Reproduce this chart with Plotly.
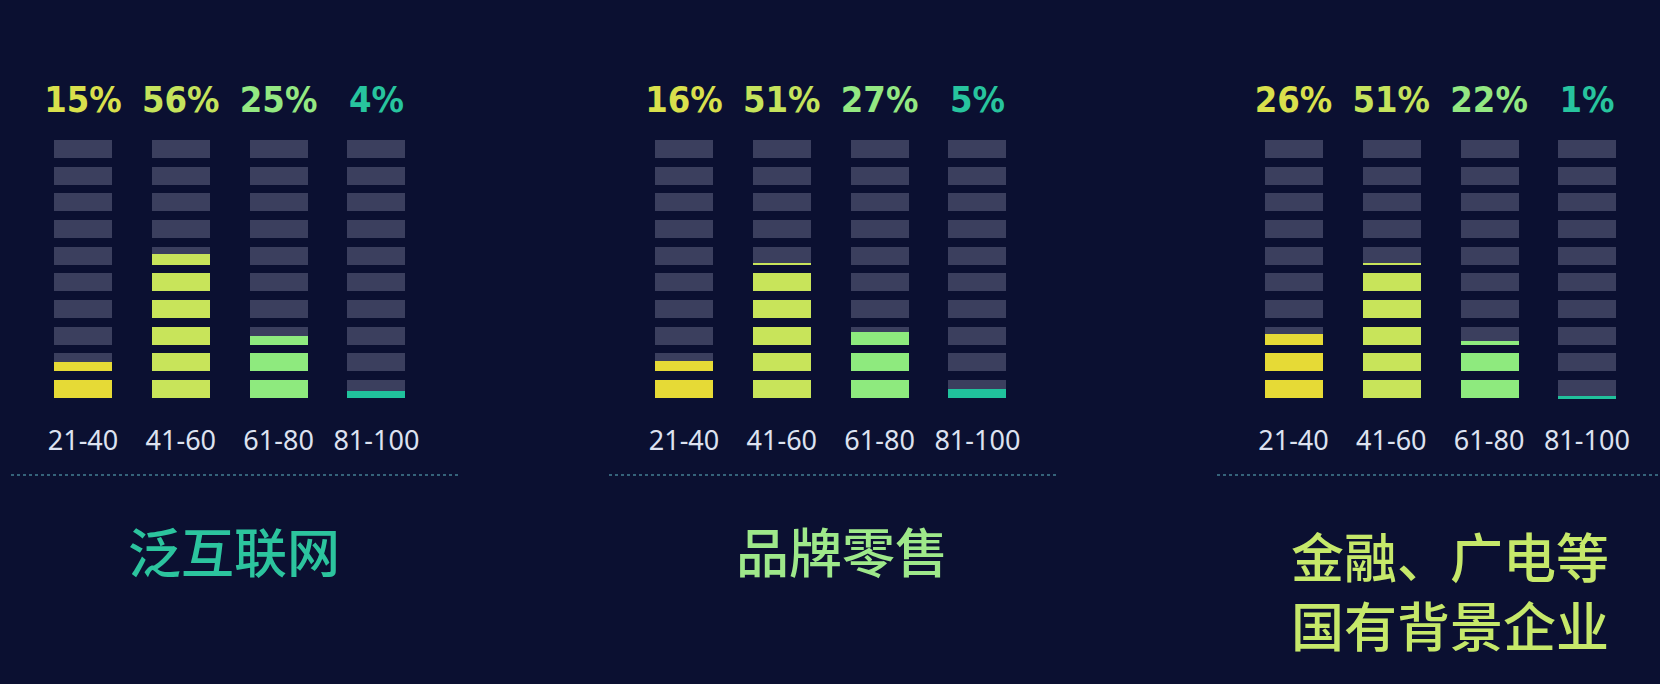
import plotly.graph_objects as go

# score bands shown under every panel
score_bands = ["21-40", "41-60", "61-80", "81-100"]

# sector names (one panel each)
sector_names = ["泛互联网", "品牌零售", "金融、广电等<br>国有背景企业"]

# share of respondents per score band, in percent
share_internet = [15, 56, 25, 4]
share_retail = [16, 51, 27, 5]
share_finance = [26, 51, 22, 1]

BG = "#0b1031"
EMPTY = "#3b3f5e"
FILL_COLORS = ["#e6da36", "#c8e45a", "#8eea7e", "#20c29c"]
LABEL_COLORS = ["#d9e04c", "#c5e35c", "#93e882", "#27c49e"]
TITLE_COLORS = ["#2cc49e", "#9ee88a", "#c6e86a"]

N_BLOCKS = 10      # each block = 10 %
BLOCK_H = 6.75     # visible part of a 10-unit step
W, H = 1660, 684

# panel placement in pixels: (left, right) of the category axis
panel_px = [(34.1, 425.3), (635.1, 1026.3), (1244.6, 1635.8)]
title_px = [(234, 550), (842, 550), (1449.5, 589)]
dots_px = [(11, 458), (609, 1056), (1217, 1660)]
LINE_STEP = 69     # px between title lines

fig = go.Figure()

for p, values in enumerate([share_internet, share_retail, share_finance]):
    xa = "x" if p == 0 else f"x{p + 1}"

    # empty blocks
    fig.add_trace(go.Bar(
        x=score_bands * N_BLOCKS,
        y=[BLOCK_H] * (4 * N_BLOCKS),
        base=[10 * i for i in range(N_BLOCKS) for _ in score_bands],
        marker=dict(color=EMPTY, line=dict(width=0)),
        width=0.593,
        xaxis=xa, yaxis="y",
        hoverinfo="skip", showlegend=False,
    ))

    # filled blocks (bottom up, last one partial)
    for j, v in enumerate(values):
        xs, ys, bs = [], [], []
        for i in range(N_BLOCKS):
            frac = min(max(v / 10 - i, 0), 1)
            if frac > 0:
                xs.append(score_bands[j])
                ys.append(BLOCK_H * frac)
                bs.append(10 * i)
        fig.add_trace(go.Bar(
            x=xs, y=ys, base=bs,
            marker=dict(color=FILL_COLORS[j], line=dict(width=0)),
            width=0.593,
            xaxis=xa, yaxis="y",
            hoverinfo="skip", showlegend=False,
        ))

    # percentage on top
    fig.add_trace(go.Scatter(
        x=score_bands, y=[110.5] * 4,
        mode="text",
        text=[f"{v}%" for v in values],
        textfont=dict(family="DejaVu Sans Condensed, Liberation Sans Narrow, sans-serif",
                      size=36, color=LABEL_COLORS, weight="bold"),
        xaxis=xa, yaxis="y", hoverinfo="skip", showlegend=False,
    ))

    # band labels below
    fig.add_trace(go.Scatter(
        x=score_bands, y=[-17] * 4,
        mode="text",
        text=score_bands,
        textfont=dict(family="Noto Sans, Open Sans, sans-serif", size=27, color="#dde2f0"),
        xaxis=xa, yaxis="y", hoverinfo="skip", showlegend=False,
    ))

    left, right = panel_px[p]
    ax = dict(domain=[left / W, right / W], range=[-0.5, 3.5], anchor="y",
              type="category", categoryorder="array", categoryarray=score_bands,
              showgrid=False, zeroline=False, showticklabels=False, ticks="",
              showline=False, fixedrange=True)
    fig.update_layout(**{("xaxis" if p == 0 else f"xaxis{p + 1}"): ax})

    # dotted divider
    x0, x1 = dots_px[p]
    fig.add_shape(type="line", xref="paper", yref="paper",
                  x0=x0 / W, x1=x1 / W, y0=1 - 475 / H, y1=1 - 475 / H,
                  line=dict(color="#35637a", width=2, dash="dot"))

    # sector title, one annotation per line
    tx, ty = title_px[p]
    lines = sector_names[p].split("<br>")
    first = ty - LINE_STEP * (len(lines) - 1) / 2
    for k, line in enumerate(lines):
        fig.add_annotation(
            text=line, xref="paper", yref="paper",
            x=tx / W, y=1 - (first + k * LINE_STEP) / H,
            xanchor="center", yanchor="middle",
            showarrow=False,
            font=dict(family="Noto Sans CJK SC", size=53, color=TITLE_COLORS[p], weight=500),
        )

fig.update_layout(
    width=W, height=H,
    margin=dict(l=0, r=0, t=0, b=0),
    paper_bgcolor=BG, plot_bgcolor=BG,
    barmode="overlay",
    bargap=0,
    yaxis=dict(domain=[0, 1], range=[-107.2, 149.2], showgrid=False, zeroline=False,
               showticklabels=False, ticks="", showline=False, fixedrange=True),
    showlegend=False,
)

fig.write_html(
    "out.html",
    config={"displayModeBar": False},
    post_script="document.body.style.margin='0';document.body.style.background='" + BG + "';",
)
